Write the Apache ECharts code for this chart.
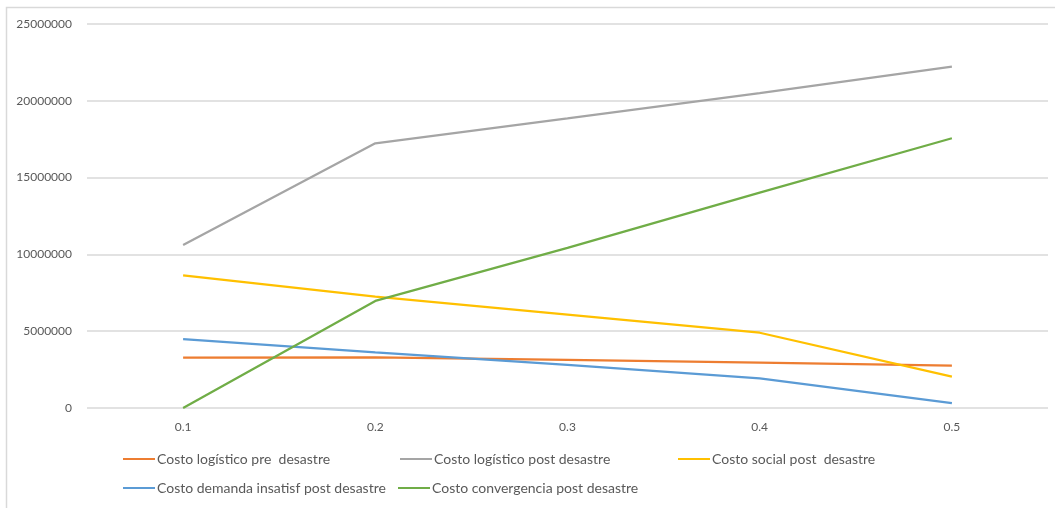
<!DOCTYPE html>
<html>
<head>
<meta charset="utf-8">
<style>
  html, body { margin: 0; padding: 0; background: #ffffff; }
  #chart { width: 1055px; height: 508px; }
</style>
<script src="https://cdn.jsdelivr.net/npm/echarts@6/dist/echarts.min.js"></script>
</head>
<body>
<div id="chart"></div>
<script>
// Tasa (eje X)
const categories = ['0.1', '0.2', '0.3', '0.4', '0.5'];

// Costos por escenario
const costoLogisticoPre = [3280000, 3300000, 3130000, 2950000, 2760000];
const costoLogisticoPost = [10610000, 17230000, 18850000, 20500000, 22220000];
const costoSocialPost = [8640000, 7250000, 6080000, 4900000, 2040000];
const costoDemandaInsatisfPost = [4490000, 3620000, 2800000, 1930000, 310000];
const costoConvergenciaPost = [0, 6970000, 10420000, 14020000, 17560000];

const seriesNames = [
  'Costo logístico pre  desastre',
  'Costo logístico post desastre',
  'Costo social post  desastre',
  'Costo demanda insatisf post desastre',
  'Costo convergencia post desastre'
];
const seriesColors = ['#ed7d31', '#a5a5a5', '#ffc000', '#5b9bd5', '#70ad47'];
const seriesData = [costoLogisticoPre, costoLogisticoPost, costoSocialPost, costoDemandaInsatisfPost, costoConvergenciaPost];

const FONT = 'Lato, "Open Sans", sans-serif';
const TEXT_COLOR = '#595959';

const legendBase = {
  orient: 'horizontal',
  icon: 'rect',
  padding: 0,
  itemWidth: 32,
  itemHeight: 2,
  itemGap: 10,
  textStyle: { fontFamily: FONT, fontSize: 14, color: TEXT_COLOR, padding: [0, 0, 0, -3] },
  selectedMode: false
};

const chart = echarts.init(document.getElementById('chart'), null, { renderer: 'canvas' });
chart.setOption({
  animation: false,
  backgroundColor: '#ffffff',
  color: seriesColors,
  graphic: [{
    type: 'rect',
    shape: { x: 6.5, y: 7.5, width: 1100, height: 560 },
    style: { fill: 'none', stroke: '#d9d9d9', lineWidth: 1.5 },
    silent: true
  }],
  grid: { left: 87, right: 7, top: 24, bottom: 100, containLabel: false },
  legend: [
    Object.assign({}, legendBase, { left: 123, top: 452, data: [seriesNames[0]] }),
    Object.assign({}, legendBase, { left: 400, top: 452, data: [seriesNames[1]] }),
    Object.assign({}, legendBase, { left: 678, top: 452, data: [seriesNames[2]] }),
    Object.assign({}, legendBase, { left: 123, top: 481, data: [seriesNames[3]] }),
    Object.assign({}, legendBase, { left: 398, top: 481, data: [seriesNames[4]] })
  ],
  xAxis: {
    type: 'category',
    data: categories,
    boundaryGap: true,
    axisLine: { show: false },
    axisTick: { show: false },
    axisLabel: { fontFamily: FONT, fontSize: 12, color: TEXT_COLOR, margin: 13 }
  },
  yAxis: {
    type: 'value',
    min: 0,
    max: 25000000,
    interval: 5000000,
    axisLine: { show: false },
    axisTick: { show: false },
    axisLabel: {
      fontFamily: FONT, fontSize: 12, color: TEXT_COLOR, margin: 15,
      formatter: (v) => String(v)
    },
    splitLine: { lineStyle: { color: '#d9d9d9', width: 1.5 } }
  },
  series: seriesNames.map((name, i) => ({
    name: name,
    type: 'line',
    data: seriesData[i],
    symbol: 'none',
    lineStyle: { width: 2.25, color: seriesColors[i] },
    itemStyle: { color: seriesColors[i] }
  }))
});
</script>
</body>
</html>
